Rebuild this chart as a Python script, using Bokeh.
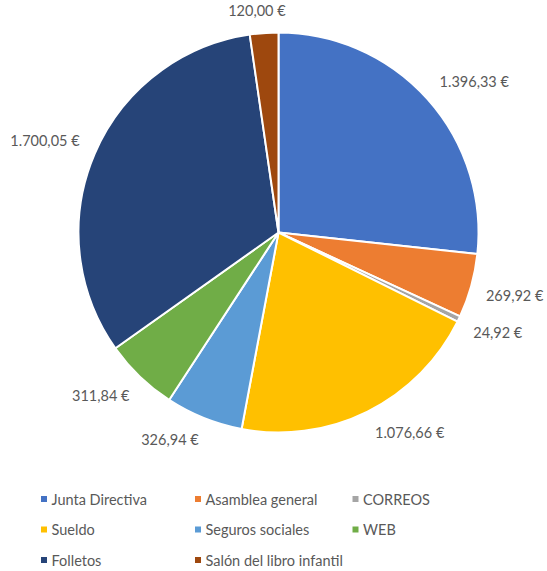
import numpy as np
from bokeh.plotting import figure
from bokeh.models import ColumnDataSource
from bokeh.core.properties import value
from bokeh.embed import file_html
from bokeh.resources import INLINE

# ---- data ----
categories = ["Junta Directiva", "Asamblea general", "CORREOS", "Sueldo",
              "Seguros sociales", "WEB", "Folletos", "Salón del libro infantil"]
amounts = [1396.33, 269.92, 24.92, 1076.66, 326.94, 311.84, 1700.05, 120.00]
colors = ["#4472C4", "#ED7D31", "#A5A5A5", "#FFC000",
          "#5B9BD5", "#70AD47", "#264478", "#9E480E"]


def fmt_eur(v):
    s = f"{v:,.2f}"
    return s.replace(",", "X").replace(".", ",").replace("X", ".") + " €"


labels = [fmt_eur(v) for v in amounts]

# ---- geometry ----
W, H = 547, 571
PX = 200.0  # pixels per data unit (pie radius = 1)
cx_px, cy_px = 278, 232  # pie centre inside the canvas

vals = np.array(amounts)
frac = vals / vals.sum()
cum_end = np.cumsum(frac)
cum_start = cum_end - frac
start_angle = np.pi / 2 - 2 * np.pi * cum_end
end_angle = np.pi / 2 - 2 * np.pi * cum_start
mid = 2 * np.pi * (cum_start + cum_end) / 2  # clockwise from top
s, c = np.sin(mid), np.cos(mid)

# label placement: nearest box point at distance D along the mid ray
D = 1.08
hw = np.array([len(t) * 3.5 for t in labels]) / PX
hh = 7.0 / PX
lx = D * s + hw * np.clip(s * 3, -1, 1)
ly = D * c + hh * np.clip(c * 3, -1, 1)

src = ColumnDataSource(dict(cat=categories, val=amounts, color=colors,
                            start=start_angle, end=end_angle,
                            lx=lx, ly=ly, lab=labels))

p = figure(width=W, height=H, output_backend="svg", toolbar_location=None,
           x_range=(-cx_px / PX, (W - cx_px) / PX),
           y_range=(-(H - cy_px) / PX, cy_px / PX),
           min_border=0, tools="")
p.axis.visible = False
p.grid.visible = False
p.outline_line_color = None
p.background_fill_color = "white"

p.wedge(x=0, y=0, radius=1.0, start_angle="start", end_angle="end",
        fill_color="color", line_color="white", line_width=2, source=src)

p.text(x="lx", y="ly", text="lab", source=src, text_align="center",
       text_baseline="middle", text_font=value("Lato"),
       text_font_size="14.5px", text_color="#595959")

# ---- legend (3 columns) ----
col_x_px = [43.5, 197.5, 355.0]   # canvas coordinates of markers
row_y_px = [498.5, 529.0, 559.5]
n = len(categories)
mx = np.array([(col_x_px[i % 3] - cx_px) / PX for i in range(n)])
my = np.array([(cy_px - row_y_px[i // 3]) / PX for i in range(n)])
lsrc = ColumnDataSource(dict(mx=mx, my=my, tx=mx + 7.5 / PX, cat=categories,
                             color=colors))
p.scatter(x="mx", y="my", marker="square", size=6, fill_color="color",
          line_color=None, source=lsrc)
p.text(x="tx", y="my", text="cat", source=lsrc, text_align="left",
       text_baseline="middle", text_font=value("Lato"),
       text_font_size="14.5px", text_color="#595959")

open("out.html", "w").write(file_html(p, INLINE))
